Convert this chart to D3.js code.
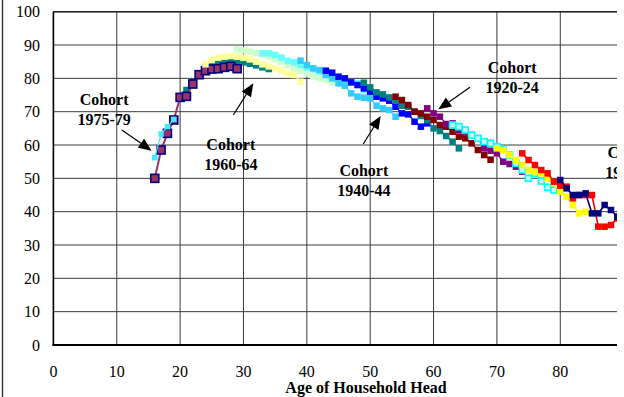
<!DOCTYPE html>
<html><head><meta charset="utf-8">
<script src="https://cdn.jsdelivr.net/npm/d3@7"></script>
<style>html,body{margin:0;padding:0;background:#fff;} svg{display:block;font-family:"Liberation Serif","Times New Roman",serif;}</style>
</head><body><svg id="c" width="624" height="397"></svg>
<script>
// ---- tick labels ----
const xTicks = [0, 10, 20, 30, 40, 50, 60, 70, 80];
const yTicks = [0, 10, 20, 30, 40, 50, 60, 70, 80, 90, 100];
const xTitle = "Age of Household Head";

// ---- series (age of head, homeownership rate %) ----
const ages_c1975 = [16,17,18,19,20,21,22,23,24,25,26,27,28,29];
const vals_c1975 = [50,58.5,63.5,67.5,74.3,74.6,78.3,81.1,82.3,82.8,82.9,83.3,83.6,82.9];

const ages_early = [16,17,18,19];
const vals_early = [56.2,63.3,65.5,67.7];

const ages_tealA = [21,22,23,24,25,26,27,28,29,30,31,32,33,34];
const vals_tealA = [76.5,79,81.5,83.5,84.3,84.6,84.8,84.9,85,84.8,84.4,83.9,83.3,82.8];

const ages_ltYel = [24,25,26,27,28,29,30,31,32,33,34,35,36,37,38,39];
const vals_ltYel = [84.2,85.5,86.2,86.5,86.7,86.5,86.2,85.7,85,84.2,83.6,83,82.3,81.5,81,79];

const ages_ltGrn = [29,30,31,32,33,34,35,36,37,38,39,40,41,42,43,44];
const vals_ltGrn = [88.7,88.4,88,87.6,87.2,86.6,85.8,85,84,83,82.3,81.5,80.5,80,79.5,78.8];

const ages_cyanA = [33,34,35,36,37,38,39,40,41,42,43,44,45,46,47,48,49];
const vals_cyanA = [87.5,87.5,87,86.2,85.3,84.8,84,83.3,82.7,82,81.3,80.5,80,79.4,78.7,78.5,76.5];

const ages_skyB = [39,40,41,42,43,44,45,46,47,48,49,50,51,52,53,54];
const vals_skyB = [85.3,84,83,82.5,81,80,78.5,77.8,75.5,74.5,74.2,74,71.8,71,70.5,68.5];

const ages_blue = [43,44,45,46,47,48,49,50,51,52,53,54,55,56,57,58,59];
const vals_blue = [82.3,81.7,80.5,80,78.8,78,77,76,74.5,74,73.3,71.5,69.5,69.2,67,65.5,66.5];

const ages_tealB = [49,50,51,52,53,54,55,56,57,58,59,60,61,62,63,64];
const vals_tealB = [78.7,77.3,75.8,75.2,74.3,73.3,71.8,71.5,70,68.7,67.5,65,64.2,62.7,61,59];

const ages_dkRed = [54,55,56,57,58,59,60,61,62,63,64,65,66,67,68,69];
const vals_dkRed = [74.5,73.5,72,70,69.5,68.5,67.5,66,65.5,64,62.5,62,60.5,58.5,57,55.6];

const ages_purp = [59,60,61,62,63,64,65,66,67,68,69,70,71,72,73,74];
const vals_purp = [71,69.5,68.5,66.3,66.5,64.5,64,63,62,59,58.3,57.5,55,54.3,53.5,52];

const ages_cyanH = [63,64,65,66,67,68,69,70,71,72,73,74,75,76,77,78,79];
const vals_cyanH = [66,65.5,64.5,63,62,61,60.5,59.5,58.7,57,54.5,52.5,50,51.5,49.2,47.3,46.5];

const ages_yel = [70,71,72,73,74,75,76,77,78,79,80,81,82,83,84];
const vals_yel = [59,58.5,57,55.5,54,52.5,52,51.5,50,48.5,46,44.5,42,39.5,40];

const ages_red = [74,75,76,77,78,79,80,81,82,83,84,85,86,87,88,89];
const vals_red = [57.5,55.5,54,52.5,51.5,49,47.8,47.5,44,45,45,45,35.5,35.5,36,38];

const ages_navy = [80,81,82,83,84,85,86,87,88,89];
const vals_navy = [49.5,47,45,45,45.5,39.5,39.5,42,40.5,38.5];

const seriesData = [
  {id:"c1975", ages:ages_c1975, vals:vals_c1975},
  {id:"early", ages:ages_early, vals:vals_early},
  {id:"tealA", ages:ages_tealA, vals:vals_tealA},
  {id:"ltYel", ages:ages_ltYel, vals:vals_ltYel},
  {id:"ltGrn", ages:ages_ltGrn, vals:vals_ltGrn},
  {id:"cyanA", ages:ages_cyanA, vals:vals_cyanA},
  {id:"skyB",  ages:ages_skyB,  vals:vals_skyB},
  {id:"blue",  ages:ages_blue,  vals:vals_blue},
  {id:"tealB", ages:ages_tealB, vals:vals_tealB},
  {id:"dkRed", ages:ages_dkRed, vals:vals_dkRed},
  {id:"purp",  ages:ages_purp,  vals:vals_purp},
  {id:"cyanH", ages:ages_cyanH, vals:vals_cyanH},
  {id:"yel",   ages:ages_yel,   vals:vals_yel},
  {id:"red",   ages:ages_red,   vals:vals_red},
  {id:"navy",  ages:ages_navy,  vals:vals_navy}
];

// ---- styles (separate from data) ----
const styles = {
  c1975:{line:"#993366", lw:2,   fill:"#993366", stroke:"#000080", sw:1.6, size:8},
  early:{line:"#44E8FF", lw:1.2, fill:"#44E8FF", stroke:"none", sw:0, size:5.5},
  tealA:{line:"#008080", lw:1.2, fill:"#008080", stroke:"none", sw:0, size:6.5},
  ltYel:{line:"#FFFF99", lw:1.2, fill:"#FFFF99", stroke:"none", sw:0, size:6.5},
  ltGrn:{line:"#CCFFCC", lw:1.2, fill:"#CCFFCC", stroke:"none", sw:0, size:6.5},
  cyanA:{line:"#66FFFF", lw:1.2, fill:"#66FFFF", stroke:"none", sw:0, size:6.5},
  skyB: {line:"#33CCFF", lw:1.2, fill:"#33CCFF", stroke:"none", sw:0, size:6.5},
  blue: {line:"#0000FF", lw:1.2, fill:"#0000FF", stroke:"none", sw:0, size:6.5},
  tealB:{line:"#008080", lw:1.2, fill:"#008080", stroke:"none", sw:0, size:6.5},
  dkRed:{line:"#800000", lw:1.2, fill:"#800000", stroke:"none", sw:0, size:6.5},
  purp: {line:"#800080", lw:1.2, fill:"#800080", stroke:"none", sw:0, size:6.5},
  cyanH:{line:"#00FFFF", lw:1.2, fill:"#CCFFFF", stroke:"#00FFFF", sw:1.6, size:6},
  yel:  {line:"#FFFF00", lw:1.5, fill:"#FFFF00", stroke:"none", sw:0, size:6.5},
  red:  {line:"#FF0000", lw:1.6, fill:"#FF0000", stroke:"none", sw:0, size:6.5},
  navy: {line:"#000080", lw:1.6, fill:"#000080", stroke:"none", sw:0, size:6.5}
};
const drawOrder = ["tealA","c1975","early","ltYel","ltGrn","cyanA","skyB","blue","tealB","dkRed","purp","cyanH","yel","red","navy"];

// ---- annotations (data units) ----
const notes = [
  {lines:["Cohort","1975-79"], at:[8.0,72.0],  from:[10.8,64.5],  to:[15.5,58.3]},
  {lines:["Cohort","1960-64"], at:[28.0,58.5], from:[28.4,69.0],  to:[31.55,78.5]},
  {lines:["Cohort","1940-44"], at:[49.0,50.7], from:[48.9,60.3],  to:[51.66,68.7]},
  {lines:["Cohort","1920-24"], at:[72.4,81.6], from:[65.75,77.3], to:[60.75,70.7]},
  {lines:["Cohort","1900-04"], at:[91.3,56.1]}
];

const W = 624, H = 397, clipX = 617;
const svg = d3.select("#c");
const x = d3.scaleLinear().domain([0,100]).range([53.4, 687]);
const y = d3.scaleLinear().domain([0,100]).range([345, 11.7]);

// left outer border
svg.append("line").attr("x1",2.5).attr("x2",2.5).attr("y1",0).attr("y2",H)
  .attr("stroke","#333").attr("stroke-width",1.4);

// gridlines
const g = svg.append("g");
g.selectAll(".hg").data(yTicks.filter(d=>d>0)).join("line")
  .attr("x1",x(0)).attr("x2",clipX).attr("y1",d=>y(d)).attr("y2",d=>y(d))
  .attr("stroke","#3a3a3a").attr("stroke-width",1);
g.selectAll(".vg").data(xTicks.filter(d=>d>0)).join("line")
  .attr("x1",d=>x(d)).attr("x2",d=>x(d)).attr("y1",y(100)).attr("y2",y(0))
  .attr("stroke","#3a3a3a").attr("stroke-width",1);
// top border
svg.append("line").attr("x1",x(0)).attr("x2",clipX).attr("y1",y(100)).attr("y2",y(100))
  .attr("stroke","#222").attr("stroke-width",1.5);

// axes lines
svg.append("line").attr("x1",x(0)).attr("x2",x(0)).attr("y1",y(100)).attr("y2",y(0))
  .attr("stroke","#000").attr("stroke-width",1.6);
svg.append("line").attr("x1",x(0)-1).attr("x2",clipX).attr("y1",y(0)).attr("y2",y(0))
  .attr("stroke","#000").attr("stroke-width",2.2);

// tick labels
svg.selectAll(".yl").data(yTicks).join("text")
  .attr("x",40).attr("y",d=>y(d)+5.5).attr("text-anchor","end")
  .attr("font-size",16).attr("fill","#000").text(d=>d);
svg.selectAll(".xl").data(xTicks).join("text")
  .attr("x",d=>x(d)).attr("y",377).attr("text-anchor","middle")
  .attr("font-size",16).attr("fill","#000").text(d=>d);
svg.append("text").attr("x",366).attr("y",393).attr("text-anchor","middle")
  .attr("font-size",16).attr("font-weight","bold").text(xTitle);

// series
const lineGen = d3.line().x(d=>x(d[0])).y(d=>y(d[1]));
const plot = svg.append("g");
drawOrder.forEach(id => {
  const s = seriesData.find(d=>d.id===id);
  const st = styles[id];
  const pts = s.ages.map((a,i)=>[a, s.vals[i]]);
  plot.append("path").datum(pts).attr("d",lineGen)
    .attr("fill","none").attr("stroke",st.line).attr("stroke-width",st.lw);
  plot.selectAll(null).data(pts).join("rect")
    .attr("x",d=>x(d[0])-st.size/2).attr("y",d=>y(d[1])-st.size/2)
    .attr("width",st.size).attr("height",st.size)
    .attr("fill",st.fill).attr("stroke",st.stroke).attr("stroke-width",st.sw);
});

// annotations
notes.forEach(n => {
  const t = svg.append("text").attr("text-anchor","middle")
    .attr("font-size",16).attr("font-weight","bold").attr("fill","#000");
  n.lines.forEach((ln,i)=>{
    t.append("tspan").attr("x",x(n.at[0])).attr("y",y(n.at[1])+i*19.5).text(ln);
  });
  if (n.from) {
    const x1=x(n.from[0]), y1=y(n.from[1]), x2=x(n.to[0]), y2=y(n.to[1]);
    const dx=x2-x1, dy=y2-y1, L=Math.hypot(dx,dy), ux=dx/L, uy=dy/L;
    const hl=13, hw=5.5;
    const bx=x2-ux*hl, by=y2-uy*hl;
    svg.append("line").attr("x1",x1).attr("y1",y1).attr("x2",bx).attr("y2",by)
      .attr("stroke","#000").attr("stroke-width",1.2);
    svg.append("path")
      .attr("d",`M${x2},${y2}L${bx-uy*hw},${by+ux*hw}L${bx+uy*hw},${by-ux*hw}Z`)
      .attr("fill","#000");
  }
});

// right crop
svg.append("rect").attr("x",clipX).attr("y",0).attr("width",W-clipX).attr("height",H).attr("fill","#fff");
</script></body></html>
